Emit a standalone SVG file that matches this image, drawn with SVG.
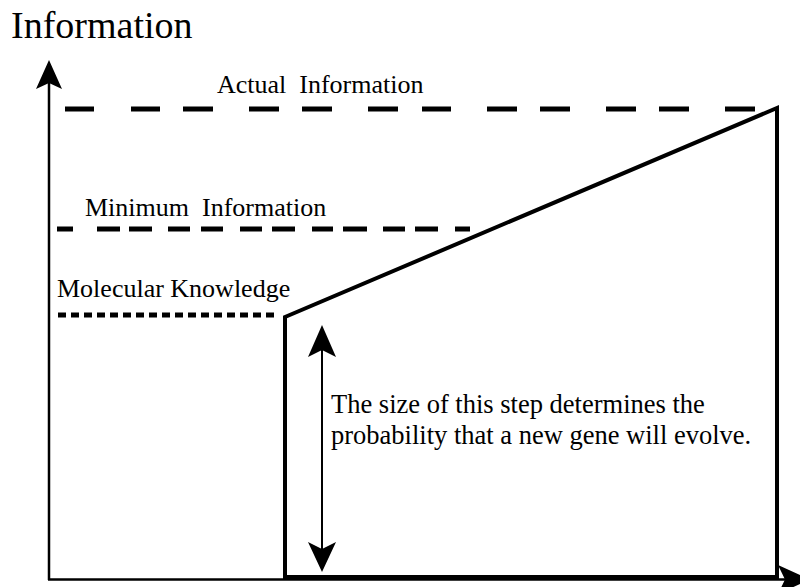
<svg xmlns="http://www.w3.org/2000/svg" width="800" height="587" viewBox="0 0 800 587">
<style>
text{font-family:"Liberation Serif","Times New Roman",serif;fill:#000}
.ax{stroke:#000;stroke-width:2.5;fill:none}
.dash{stroke:#000;stroke-width:5;fill:none}
.shape{stroke:#000;stroke-width:4;fill:none;stroke-linejoin:miter}
.head{fill:#000}
</style>
<rect width="800" height="587" fill="#fff"/>
<g id="title"><text x="11" y="38" font-size="38">Information</text></g>
<g id="axes">
<line class="ax" x1="49" y1="80" x2="49" y2="580"/>
<line class="ax" x1="48" y1="579.5" x2="790" y2="579.5"/>
<path class="head" d="M49 60 L62 89 L49 83 L36 89 Z"/>
<path class="head" d="M810 579.5 L778 565 L785 579.5 L778 594 Z"/>
</g>
<g id="actual">
<path class="dash" d="M65 109H94M131 109H160M183 109H213M249 109H279M302 109H332M368 109H398M422 109H451M487 109H517M540 109H570M606 109H636M659 109H689M725 109H755"/>
<text x="217" y="93" font-size="26" xml:space="preserve">Actual  Information</text>
</g>
<g id="minimum">
<path class="dash" d="M57 229H73M97 229H120M129 229H152M168 229H190M201 229H223M240 229H262M272 229H295M312 229H333M343 229H367M383 229H405M415 229H438M455 229H470"/>
<text x="85" y="216" font-size="26" xml:space="preserve">Minimum  Information</text>
</g>
<g id="molecular">
<line class="dash" x1="58" y1="315" x2="278" y2="315" stroke-dasharray="8 5"/>
<text x="57" y="297" font-size="26">Molecular Knowledge</text>
</g>
<g id="step">
<polygon class="shape" points="285,317 777,108 777,577 285,577"/>
</g>
<g id="connectors">
<line x1="322" y1="345" x2="322" y2="555" stroke="#000" stroke-width="2"/>
<path class="head" d="M322 325 L336 357 L322 350 L308 357 Z"/>
<path class="head" d="M322 572 L336 542 L322 549 L308 542 Z"/>
</g>
<g id="note">
<text x="331" y="413" font-size="26.5">The size of this step determines the</text>
<text x="331" y="444" font-size="26.5">probability that a new gene will evolve.</text>
</g>
</svg>
